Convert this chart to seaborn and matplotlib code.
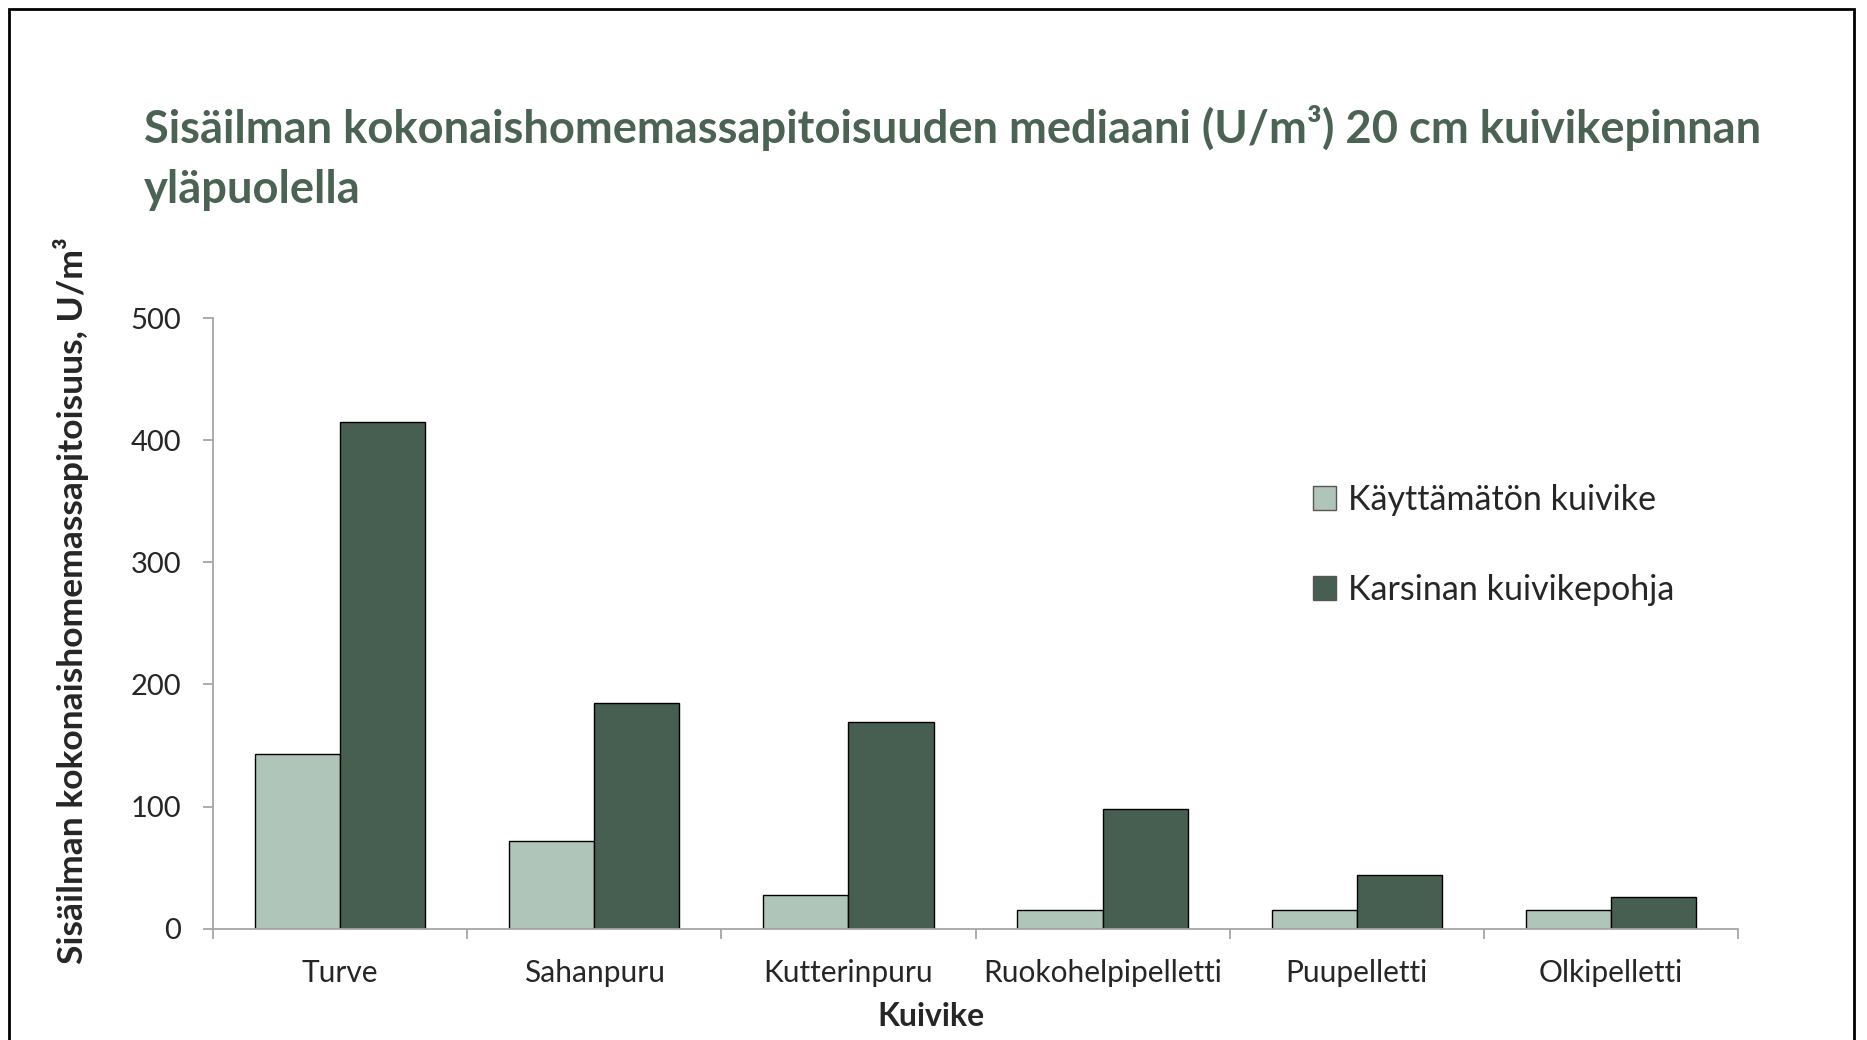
import matplotlib
matplotlib.use("Agg")
import matplotlib.pyplot as plt
import matplotlib.patches as mpatches
import seaborn as sns
import pandas as pd

# data
categories = ["Turve", "Sahanpuru", "Kutterinpuru", "Ruokohelpipelletti", "Puupelletti", "Olkipelletti"]
series_names = ["Käyttämätön kuivike", "Karsinan kuivikepohja"]
unused_values = [143, 72, 28, 15, 15, 15]
pen_values = [415, 185, 169, 98, 44, 26]
y_ticks = [0, 100, 200, 300, 400, 500]

df = pd.DataFrame({
    "Kuivike": categories * 2,
    "Sarja": [series_names[0]] * len(categories) + [series_names[1]] * len(categories),
    "Arvo": unused_values + pen_values,
})

sns.set_style("white")
plt.rcParams["font.family"] = ["Lato", "DejaVu Sans"]

palette = {series_names[0]: "#b0c5b9", series_names[1]: "#465f50"}
title_color = "#4a6353"
axis_color = "#a6a6a6"

fig = plt.figure(figsize=(18.67, 10.40), dpi=100)
ax = fig.add_axes([0.1141, 0.1070, 0.8168, 0.5872])

sns.barplot(
    data=df, x="Kuivike", y="Arvo", hue="Sarja", order=categories,
    hue_order=series_names, palette=palette, width=0.67,
    edgecolor="black", linewidth=1.0, saturation=1, ax=ax,
)

ax.set_xlim(-0.5, len(categories) - 0.5)
ax.set_ylim(0, 500)
ax.set_yticks(y_ticks)
ax.set_yticklabels([str(t) for t in y_ticks])

for side in ["top", "right"]:
    ax.spines[side].set_visible(False)
for side in ["left", "bottom"]:
    ax.spines[side].set_color(axis_color)
    ax.spines[side].set_linewidth(1.3)

# x ticks at category boundaries, labels in between
ax.set_xticks([i - 0.5 for i in range(len(categories) + 1)], minor=True)
ax.tick_params(axis="x", which="major", length=0, pad=22, labelsize=21.5)
ax.tick_params(axis="x", which="minor", length=7, width=1.3, color=axis_color, direction="out")
ax.tick_params(axis="y", which="major", length=7, width=1.3, color=axis_color, direction="out",
               pad=16, labelsize=21)
ax.tick_params(left=True, bottom=True, which="both")

ax.set_xlabel("Kuivike", fontsize=23, fontweight="bold", va="center")
ax.xaxis.set_label_coords(0.471, -0.143)
ax.set_ylabel("Sisäilman kokonaishomemassapitoisuus, U/m³", fontsize=25.5, fontweight="bold", va="center")
ax.yaxis.set_label_coords(-0.093, 0.538)

handles = [mpatches.Patch(facecolor=palette[s], edgecolor="#555555", linewidth=1) for s in series_names]
ax.legend(handles, series_names, loc="center left", bbox_to_anchor=(0.701, 0.628),
          frameon=False, fontsize=24.5, handlelength=0.7, handleheight=0.7,
          handletextpad=0.35, labelspacing=1.7)

fig.text(0.0771, 0.848,
         "Sisäilman kokonaishomemassapitoisuuden mediaani (U/m³) 20 cm kuivikepinnan\nyläpuolella",
         fontsize=32.6, fontweight="bold", color=title_color, ha="left", va="center",
         linespacing=1.55)

# outer frame of the chart area
fig.patches.append(mpatches.Rectangle((0.0048, -0.05), 0.9882, 1.041, transform=fig.transFigure,
                                      fill=False, edgecolor="black", linewidth=2, clip_on=False))

fig.savefig("out.png", dpi=100)
plt.close(fig)
